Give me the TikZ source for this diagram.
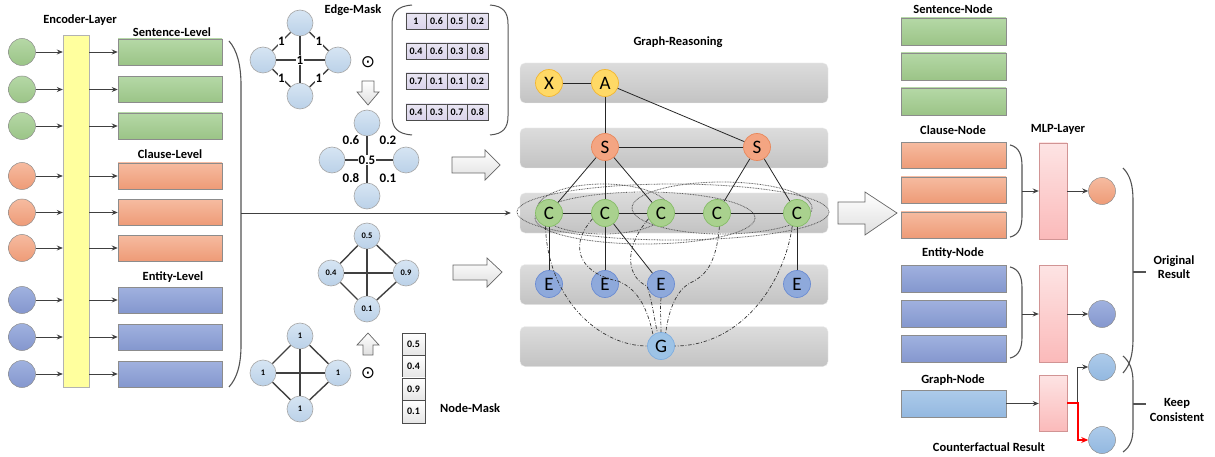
\documentclass[tikz,border=0pt]{standalone}
\usepackage{fontspec}
\setmainfont{Carlito}
\newfontfamily\symfont{DejaVu Sans}
\usetikzlibrary{arrows.meta,calc}
\definecolor{grnT}{HTML}{B5D8A6}
\definecolor{grnB}{HTML}{9BC487}
\definecolor{orT}{HTML}{F6BBA0}
\definecolor{orB}{HTML}{EE9B77}
\definecolor{blT}{HTML}{A0B1DF}
\definecolor{blB}{HTML}{8497CE}
\definecolor{lbT}{HTML}{D6E5F3}
\definecolor{lbB}{HTML}{BBD1E8}
\definecolor{gbT}{HTML}{ADCBEA}
\definecolor{gbB}{HTML}{93B8E0}
\definecolor{yel}{HTML}{FFFF9E}
\definecolor{pkT}{HTML}{FDE4E4}
\definecolor{pkB}{HTML}{FBBABA}
\definecolor{lav}{HTML}{DAD4EB}
\definecolor{layT}{HTML}{DCDCDC}
\definecolor{layB}{HTML}{C3C3C3}
\definecolor{lineC}{HTML}{404040}
\definecolor{bordC}{HTML}{8C8C8C}
\definecolor{xaF}{HTML}{FFD966}
\definecolor{xaD}{HTML}{F2B632}
\definecolor{sF}{HTML}{F4A582}
\definecolor{sD}{HTML}{E8885C}
\definecolor{cF}{HTML}{A9D18E}
\definecolor{cD}{HTML}{86BC68}
\definecolor{eF}{HTML}{8EA9DB}
\definecolor{eD}{HTML}{6B8CD2}
\definecolor{gF}{HTML}{9DC3E6}
\definecolor{gD}{HTML}{7FAEE0}
\definecolor{redC}{HTML}{FF0000}
\begin{document}
\begin{tikzpicture}[x=1pt,y=-1pt,
  lbl/.style={font=\bfseries\fontsize{12.5}{14.5}\selectfont, inner sep=0pt, align=center},
  incirc/.style={circle, minimum size=27pt, inner sep=0pt, draw=bordC, line width=0.5pt},
  cgrn/.style={top color=grnT, bottom color=grnB},
  cor/.style={top color=orT, bottom color=orB},
  cbl/.style={top color=blT, bottom color=blB},
  cgb/.style={top color=gbT, bottom color=gbB},
  featbox/.style={rectangle, minimum width=104pt, minimum height=26pt, inner sep=0pt, draw=bordC, line width=0.5pt},
  encbar/.style={rectangle, minimum width=26pt, minimum height=352pt, inner sep=0pt, draw=gray!60, fill=yel},
  mlpbar/.style={rectangle, minimum width=28pt, inner sep=0pt, draw=gray!60!red!60, line width=0.5pt, top color=pkT, bottom color=pkB},
  arr/.style={-{Stealth[length=6pt,width=5pt]}, draw=lineC, line width=0.8pt},
  brk/.style={draw=lineC!90, line width=1.1pt},
  mcirc/.style={circle, minimum size=26pt, inner sep=0pt, draw=gray!70, line width=0.6pt, top color=lbT, bottom color=lbB},
  medge/.style={draw=lineC, line width=1.4pt},
  elbl/.style={font=\bfseries\fontsize{13}{13}\selectfont, inner sep=0.6pt},
  nlbl/.style={font=\bfseries\fontsize{8.5}{9}\selectfont},
  odot/.style={font=\symfont\fontsize{17}{17}\selectfont, inner sep=0pt},
  cell/.style={rectangle, draw=gray!60!black, line width=0.5pt, top color=lav!60, bottom color=lav, minimum width=20.5pt, minimum height=16pt, inner sep=0pt, font=\bfseries\fontsize{10}{10}\selectfont},
  mcell/.style={rectangle, draw=gray!60!black, line width=0.5pt, top color=white, bottom color=gray!20, minimum width=23pt, minimum height=22.5pt, inner sep=0pt, font=\bfseries\fontsize{10}{10}\selectfont},
  harrow/.style={draw=gray!80!black, line width=0.7pt, top color=white, bottom color=gray!25},
  layer/.style={rectangle, rounded corners=5pt, minimum width=308pt, minimum height=40pt, inner sep=0pt, top color=layT, bottom color=layB, draw=gray!15},
  gnode/.style={circle, minimum size=27pt, inner sep=0pt, line width=0.7pt, font=\fontsize{19}{19}\selectfont},
  gX/.style={gnode, fill=xaF, draw=xaD},
  gS/.style={gnode, fill=sF, draw=sD},
  gC/.style={gnode, fill=cF, draw=cD},
  gE/.style={gnode, fill=eF, draw=eD},
  gG/.style={gnode, fill=gF, draw=gD},
  gedge/.style={draw=black!85, line width=0.8pt},
  dd/.style={draw=black!80, line width=0.7pt, dash pattern=on 3.5pt off 1.8pt on 0.8pt off 1.8pt},
  dotl/.style={draw=black!65, line width=0.8pt, dash pattern=on 0.8pt off 0.8pt},
  rcirc/.style={circle, minimum size=27pt, inner sep=0pt, draw=bordC, line width=0.5pt}
]
\useasboundingbox (0,0) rectangle (1215,457);

% ---------------- Encoder part ----------------
\node[lbl] (tEnc) at (80,20) {Encoder-Layer};
\node[lbl] (tSL) at (172,32) {Sentence-Level};
\node[lbl] (tCL) at (170,154) {Clause-Level};
\node[lbl] (tEL) at (173,277) {Entity-Level};
\node[encbar] (enc) at (76,211) {};
\foreach \i/\y/\s in {1/52/grn,2/89.5/grn,3/126/grn,4/176/or,5/212.5/or,6/248/or,7/300/bl,8/337/bl,9/374/bl}{
  \node[incirc, c\s] (in\i) at (22,\y) {};
  \node[featbox, c\s] (lb\i) at (170,\y) {};
  \draw[arr] (in\i) -- (in\i -| enc.west);
  \draw[arr] (in\i -| enc.east) -- (lb\i);
}
\draw[brk] (229,41) .. controls (237,50) and (241,65) .. (241,85) -- (241,345) .. controls (241,365) and (237,378) .. (229,387);
\coordinate (brL) at (241,213);

% ---------------- Edge-Mask ----------------
\node[lbl] (tEM) at (353,10) {Edge-Mask};
\node[mcirc] (ea1) at (300,23) {};
\node[mcirc] (ea2) at (263,60) {};
\node[mcirc] (ea3) at (338,60) {};
\node[mcirc] (ea4) at (300,96) {};
\draw[medge] (ea1) -- (ea4);
\draw[medge] (ea2) -- (ea3);
\draw[medge] (ea1) -- node[elbl, fill=white]{1} (ea2);
\draw[medge] (ea1) -- node[elbl, fill=white]{1} (ea3);
\draw[medge] (ea2) -- node[elbl, fill=white]{1} (ea4);
\draw[medge] (ea3) -- node[elbl, fill=white]{1} (ea4);
\node[elbl, fill=white] (ec1) at (300,60) {1};
\node[odot] (od1) at (368,62) {⊙};
\draw[harrow] (362,81) -- (374,81) -- (374,92) -- (379,92) -- (368,105) -- (357,92) -- (362,92) -- cycle;

% matrix
\draw[brk, line width=1pt] (412,5) .. controls (398,6) and (392,12) .. (392,24) -- (392,116) .. controls (392,128) and (398,134) .. (412,135);
\draw[brk, line width=1pt] (490,5) .. controls (503,6) and (508,12) .. (508,24) -- (508,116) .. controls (508,128) and (503,134) .. (490,135);
\foreach \r/\y/\a/\b/\c/\d in {1/21/1/0.6/0.5/0.2, 2/51/0.4/0.6/0.3/0.8, 3/81/0.7/0.1/0.1/0.2, 4/112/0.4/0.3/0.7/0.8}{
  \node[cell] (m\r a) at (416,\y) {\a};
  \node[cell] (m\r b) at (436.5,\y) {\b};
  \node[cell] (m\r c) at (457,\y) {\c};
  \node[cell] (m\r d) at (477.5,\y) {\d};
}

% masked edge graph
\node[mcirc] (eb1) at (367,123) {};
\node[mcirc] (eb2) at (332,160) {};
\node[mcirc] (eb3) at (406,160) {};
\node[mcirc] (eb4) at (367,196) {};
\draw[medge] (eb1) -- (eb4);
\draw[medge] (eb2) -- (eb3);
\node[elbl] (w1) at (351,140) {0.6};
\node[elbl] (w2) at (388,140) {0.2};
\node[elbl, fill=white] (w3) at (367,160) {0.5};
\node[elbl] (w4) at (351,178) {0.8};
\node[elbl] (w5) at (388,178) {0.1};
\draw[harrow] (452,157) -- (485,157) -- (485,150) -- (500,165) -- (485,180) -- (485,173) -- (452,173) -- cycle;

% ---------------- Node-Mask ----------------
\node[mcirc, nlbl] (na1) at (367,236) {0.5};
\node[mcirc, nlbl] (na2) at (331,273) {0.4};
\node[mcirc, nlbl] (na3) at (406,273) {0.9};
\node[mcirc, nlbl] (na4) at (367,309) {0.1};
\foreach \p/\q in {na1/na2,na1/na3,na2/na4,na3/na4,na1/na4,na2/na3}{\draw[medge] (\p) -- (\q);}
\draw[harrow] (453,265) -- (487,265) -- (487,258) -- (502,272) -- (487,287) -- (487,280) -- (453,280) -- cycle;

\node[mcirc, nlbl] (nb1) at (300,336) {1};
\node[mcirc, nlbl] (nb2) at (263,373) {1};
\node[mcirc, nlbl] (nb3) at (338,373) {1};
\node[mcirc, nlbl] (nb4) at (300,409) {1};
\foreach \p/\q in {nb1/nb2,nb1/nb3,nb2/nb4,nb3/nb4,nb1/nb4,nb2/nb3}{\draw[medge] (\p) -- (\q);}
\draw[harrow] (363,355) -- (373,355) -- (373,345) -- (379,345) -- (368,333) -- (357,345) -- (363,345) -- cycle;
\node[odot] (od2) at (368,373) {⊙};
\foreach \k/\y/\v in {1/344/0.5,2/366.5/0.4,3/389/0.9,4/411.5/0.1}{
  \node[mcell] (nm\k) at (413.5,\y) {\v};
}
\node[lbl, anchor=west] (tNM) at (440,408) {Node-Mask};

% ---------------- Graph-Reasoning ----------------
\node[lbl] (tGR) at (678,42) {Graph-Reasoning};
\node[layer] (L1) at (674,83) {};
\node[layer] (L2) at (674,148) {};
\node[layer] (L3) at (674,213) {};
\node[layer] (L4) at (674,284.5) {};
\node[layer] (L5) at (674,346.5) {};
\draw[arr] (brL) -- ($(L3.west)+(-9,0)$);

% dotted ellipses
\draw[dotl] (673,212) ellipse [x radius=156, y radius=28];
\draw[dotl] (603,209) ellipse [x radius=66, y radius=25];
\draw[dotl] (722,208) ellipse [x radius=90, y radius=26];
\draw[dotl] (645,218) ellipse [x radius=110, y radius=26];

\node[gX] (X) at (549,83) {X};
\node[gX] (A) at (605,83) {A};
\node[gS] (S1) at (605,147) {S};
\node[gS] (S2) at (757,147) {S};
\node[gC] (C1) at (549,213) {C};
\node[gC] (C2) at (605,213) {C};
\node[gC] (C3) at (661,213) {C};
\node[gC] (C4) at (717,213) {C};
\node[gC] (C5) at (797,213) {C};
\node[gE] (E1) at (549,284) {E};
\node[gE] (E2) at (605,284) {E};
\node[gE] (E3) at (661,284) {E};
\node[gE] (E4) at (797,284) {E};
\node[gG] (G) at (661,346) {G};

\foreach \p/\q in {X/A,A/S1,A/S2,S1/S2,S1/C1,S1/C2,S1/C3,S2/C4,S2/C5,C1/C2,C2/C3,C3/C4,C4/C5,C1/E1,C2/E2,C2/E3,C5/E4}{\draw[gedge] (\p) -- (\q);}

% dash-dot connections
\draw[dd] (C1.255) .. controls (548,300) and (600,346) .. (G.west);
\draw[dd] (C2.205) .. controls (565,250) and (585,275) .. (618,281) .. controls (640,290) and (648,312) .. (G.125);
\draw[dd] (C3.205) .. controls (622,250) and (628,278) .. (647,286) .. controls (652,300) and (654,318) .. (G.105);
\draw[dd] (E3.south) .. controls (660,310) and (661,320) .. (G.north);
\draw[dd] (C4.280) .. controls (716,265) and (705,276) .. (690,283) .. controls (674,292) and (668,315) .. (G.70);
\draw[dd] (C5.250) .. controls (784,285) and (740,346) .. (G.east);

% ---------------- Right part ----------------
\draw[harrow] (838,202) -- (865,202) -- (865,192) -- (897,213) -- (865,235) -- (865,224) -- (838,224) -- cycle;

\node[lbl] (tSN) at (953,9) {Sentence-Node};
\node[lbl] (tCN) at (953,130) {Clause-Node};
\node[lbl] (tEN) at (953,253) {Entity-Node};
\node[lbl] (tGN) at (953,380) {Graph-Node};
\node[lbl] (tML) at (1058,129) {MLP-Layer};
\foreach \k/\y in {1/31.5,2/66.5,3/101.5}{\node[featbox, cgrn, minimum width=105pt, minimum height=27pt] (rs\k) at (953.5,\y) {};}
\foreach \k/\y in {1/155.5,2/190,3/225}{\node[featbox, cor, minimum width=105pt, minimum height=26pt] (rc\k) at (953.5,\y) {};}
\foreach \k/\y in {1/278.5,2/313.5,3/349}{\node[featbox, cbl, minimum width=105pt, minimum height=27pt] (re\k) at (953.5,\y) {};}
\node[featbox, cgb, minimum width=105pt, minimum height=27pt] (rg) at (953.5,403.5) {};

\draw[brk] (1010,145) .. controls (1019,147) and (1022,155) .. (1022,166) -- (1022,216) .. controls (1022,227) and (1019,235) .. (1010,237);
\draw[brk] (1010,267) .. controls (1019,269) and (1022,277) .. (1022,288) -- (1022,337) .. controls (1022,348) and (1019,356) .. (1010,358);
\coordinate (bcC) at (1022,191);
\coordinate (bcE) at (1022,314);

\node[mlpbar, minimum height=96pt] (M1) at (1053,191) {};
\node[mlpbar, minimum height=97pt] (M2) at (1053,313.5) {};
\node[mlpbar, minimum height=56pt] (M3) at (1053,403) {};

\node[rcirc, cor] (oc) at (1102,191) {};
\node[rcirc, cbl] (bc) at (1102,314) {};
\node[rcirc, cgb] (lc1) at (1102,367) {};
\node[rcirc, cgb] (lc2) at (1102,440) {};

\draw[arr] (bcC) -- (bcC -| M1.west);
\draw[arr] (bcC -| M1.east) -- (oc);
\draw[arr] (bcE) -- (bcE -| M2.west);
\draw[arr] (bcE -| M2.east) -- (bc);
\draw[arr] (rg) -- (rg -| M3.west);
\coordinate (m3o) at (M3.east);
\draw[arr] (m3o) -- ++(10,0) |- (lc1);
\draw[-{Stealth[length=7pt,width=6pt]}, draw=redC, line width=1.8pt] (m3o) -- ++(11,0) |- (lc2);

\draw[brk] (1123,168) .. controls (1130,175) and (1133,185) .. (1133,200) -- (1133,338) .. controls (1133,355) and (1130,365) .. (1123,373);
\draw[brk] (1123,356) .. controls (1130,362) and (1133,370) .. (1133,382) -- (1133,428) .. controls (1133,440) and (1130,447) .. (1123,452);
\draw[brk] (1133,272) -- (1146,272);
\draw[brk] (1133,404) -- (1146,404);
\node[lbl] (tOR) at (1174,267) {Original\\Result};
\node[lbl] (tKC) at (1177,410) {Keep\\Consistent};
\node[lbl] (tCR) at (989,447) {Counterfactual Result};
\end{tikzpicture}
\end{document}
